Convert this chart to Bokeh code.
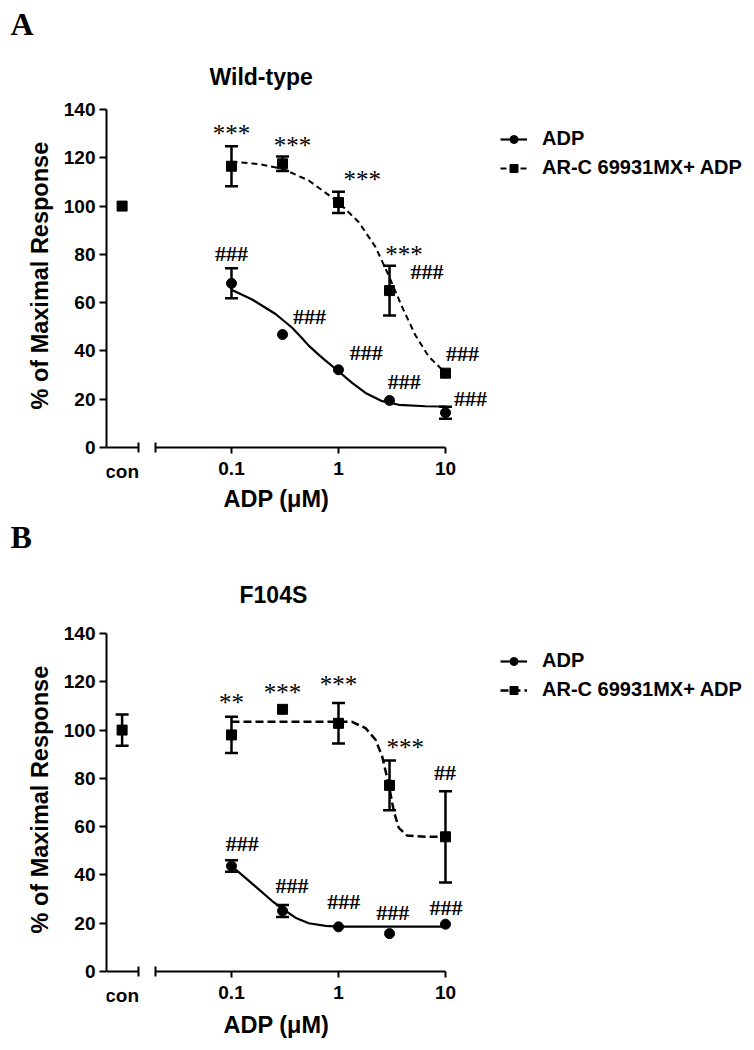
from bokeh.plotting import figure
from bokeh.models import (ColumnDataSource, Whisker, TeeHead, LabelSet, Legend, LegendItem,
                          FixedTicker, LogAxis, NumeralTickFormatter, Title, Range1d)
from bokeh.layouts import column
from bokeh.embed import file_html
from bokeh.resources import INLINE

# ---------------- data ----------------
DOSE = [0.1, 0.3, 1, 3, 10]
XTICKS = [0.1, 1, 10]
XTICK_LABELS = ["0.1", "1", "10"]
YTICKS = [0, 20, 40, 60, 80, 100, 120, 140]
CON_LABEL = "con"
SERIES = ["ADP", "AR-C 69931MX+ ADP"]
X_LABEL = "ADP (\u03bcM)"
Y_LABEL = "% of Maximal Response"

# Panel A (Wild-type)
A_ADP = [68.0, 46.8, 32.2, 19.5, 14.4]
A_ADP_SEM = [6.2, 0, 0, 0, 2.5]
A_ARC = [116.5, 117.5, 101.5, 65.0, 30.8]
A_ARC_SEM = [8.3, 3.0, 4.4, 10.3, 0]
A_CON = 100.0
A_CON_SEM = 0.0
A_FIT_ADP_X = [0.1, 0.156, 0.258, 0.369, 0.45, 0.527, 0.64, 0.757, 1.0, 1.34, 1.79, 2.56, 3.66, 6.5, 10]
A_FIT_ADP_Y = [65.3, 61.3, 55.3, 49.6, 45.6, 42.2, 38.8, 36.0, 31.6, 26.8, 22.6, 19.2, 17.7, 17.1, 17.0]
A_FIT_ARC_X = [0.1, 0.18, 0.3, 0.527, 1.0, 1.55, 2.22, 2.95, 3.94, 5.25, 6.99, 9.31, 10]
A_FIT_ARC_Y = [118.4, 117.4, 115.4, 110.6, 101.6, 93.3, 83.0, 71.2, 58.1, 46.4, 37.6, 32.2, 31.6]
A_ANN_TEXT = ["***", "***", "***", "***", "###", "###", "###", "###", "###", "###", "###"]
A_ANN_X = [0.1, 0.371, 1.67, 4.1, 6.7, 0.1, 0.536, 1.82, 4.11, 14.4, 17.1]
A_ANN_Y = [130.1, 125.1, 111.2, 80.0, 73.1, 80.5, 54.4, 39.5, 27.4, 38.9, 20.3]

# Panel B (F104S)
B_ADP = [43.7, 25.1, 18.5, 15.7, 19.6]
B_ADP_SEM = [2.4, 2.5, 0, 0, 0]
B_ARC = [98.0, 108.6, 102.8, 77.1, 55.8]
B_ARC_SEM = [7.5, 0, 8.4, 10.3, 18.9]
B_CON = 100.0
B_CON_SEM = 6.5
B_FIT_ADP_X = [0.1, 0.135, 0.18, 0.24, 0.3, 0.396, 0.527, 0.757, 1.0, 10]
B_FIT_ADP_Y = [43.7, 38.8, 34.0, 29.2, 26.0, 22.3, 20.0, 18.9, 18.6, 18.6]
B_FIT_ARC_X = [0.1, 1.0, 1.34, 1.79, 2.22, 2.56, 2.95, 3.29, 3.66, 4.38, 6.5, 10]
B_FIT_ARC_Y = [103.5, 103.5, 103.4, 100.8, 96.0, 89.1, 77.4, 66.4, 59.5, 56.3, 55.8, 55.8]
B_ANN_TEXT = ["**", "***", "***", "***", "##", "###", "###", "###", "###", "###"]
B_ANN_X = [0.1, 0.3, 1.0, 4.2, 9.9, 0.126, 0.367, 1.12, 3.21, 10.1]
B_ANN_Y = [111.5, 115.5, 118.9, 92.9, 82.5, 53.0, 35.8, 29.0, 24.4, 26.7]

# ---------------- layout constants ----------------
X_START, X_END = 0.00679, 27.5
Y_LO, Y_HI = -14.9, 140
CON_X = 0.0095
BREAK_L, BREAK_R = 0.0135, 0.0195
FRAME_W, FRAME_H = 386, 374
SANS = "Liberation Sans"
SERIF = "Liberation Serif"


def style_axis(ax):
    ax.axis_line_width = 2
    ax.axis_line_color = "black"
    ax.major_tick_line_width = 2
    ax.major_tick_line_color = "black"
    ax.minor_tick_line_width = 2
    ax.minor_tick_line_color = "black"
    ax.major_label_text_font = SANS
    ax.major_label_text_font_style = "bold"
    ax.major_label_text_font_size = "19px"
    ax.major_label_text_color = "black"


def whisker_source(xs, ys, errs):
    bx, up, lo = [], [], []
    for x, y, e in zip(xs, ys, errs):
        if e > 0:
            bx.append(x)
            up.append(y + e)
            lo.append(y - e)
    return ColumnDataSource(dict(base=bx, upper=up, lower=lo))


def make_panel(letter, title, adp, adp_sem, arc, arc_sem, con, con_sem,
               fax, fay, frx, fry, ann_t, ann_x, ann_y,
               top_border, bottom_border, title_off, title_standoff, xlab_standoff, legend_vy,
               dash, dash_w):
    p = figure(x_axis_type="log", x_range=Range1d(X_START, X_END), y_range=Range1d(Y_LO, Y_HI),
               frame_width=FRAME_W, frame_height=FRAME_H,
               min_border_left=106, min_border_right=258,
               min_border_top=top_border, min_border_bottom=bottom_border,
               output_backend="svg", toolbar_location=None)
    p.xgrid.visible = False
    p.ygrid.visible = False
    p.outline_line_color = None

    # panel title (nearest the frame) and panel letter (outermost)
    p.add_layout(Title(text=title, align="left", offset=title_off, text_font=SANS,
                       text_font_style="bold", text_font_size="23px", text_color="black",
                       standoff=title_standoff), "above")
    p.title.text = letter
    p.title.align = "left"
    p.title.offset = -96
    p.title.text_font = SERIF
    p.title.text_font_style = "bold"
    p.title.text_font_size = "32px"
    p.title.text_color = "black"
    p.title.standoff = 0

    # main (log) x axis, drawn at y = 0
    xa = p.xaxis[0]
    xa.fixed_location = 0
    xa.ticker = FixedTicker(ticks=XTICKS, minor_ticks=[BREAK_R])
    xa.formatter = NumeralTickFormatter(format="0.[0]")
    xa.major_label_overrides = dict(zip(XTICKS, XTICK_LABELS))
    xa.bounds = (BREAK_R, 10)
    style_axis(xa)
    xa.major_tick_out = 6
    xa.major_tick_in = 0
    xa.minor_tick_out = 5
    xa.minor_tick_in = 5
    xa.major_label_standoff = 8

    # "con" axis segment left of the break
    ca = LogAxis(fixed_location=0, bounds=(X_START, BREAK_L),
                 ticker=FixedTicker(ticks=[CON_X], minor_ticks=[BREAK_L]),
                 major_label_overrides={CON_X: CON_LABEL})
    style_axis(ca)
    ca.major_tick_out = 0
    ca.major_tick_in = 0
    ca.minor_tick_out = 5
    ca.minor_tick_in = 5
    ca.major_label_standoff = 8
    p.add_layout(ca, "below")

    # x axis title
    p.add_layout(Title(text=X_LABEL, align="left", offset=117, vertical_align="top",
                       text_font=SANS, text_font_style="bold", text_font_size="23.5px",
                       text_color="black", standoff=xlab_standoff), "below")

    # y axis
    ya = p.yaxis[0]
    ya.ticker = FixedTicker(ticks=YTICKS)
    ya.bounds = (0, 140)
    style_axis(ya)
    ya.major_tick_out = 7
    ya.major_tick_in = 0
    ya.major_label_standoff = 4
    p.add_layout(Title(text=Y_LABEL, align="left", offset=74, vertical_align="bottom",
                       text_font=SANS, text_font_style="bold", text_font_size="23.5px",
                       text_color="black", standoff=15), "left")

    # fitted curves
    l_adp = p.line(fax, fay, line_width=2.2, color="black")
    l_arc = p.line(frx, fry, line_width=dash_w, color="black", line_dash=dash)

    # error bars
    for xs, ys, es in ((DOSE, adp, adp_sem), (DOSE, arc, arc_sem), ([CON_X], [con], [con_sem])):
        src = whisker_source(xs, ys, es)
        w = Whisker(source=src, base="base", upper="upper", lower="lower", dimension="height",
                    line_width=2.5, line_color="black",
                    upper_head=TeeHead(size=13, line_width=2.5, line_color="black"),
                    lower_head=TeeHead(size=13, line_width=2.5, line_color="black"))
        p.add_layout(w)

    # markers
    s_adp = p.scatter(DOSE, adp, marker="circle", size=10, color="black")
    s_arc = p.scatter(DOSE, arc, marker="square", size=10, color="black")
    p.scatter([CON_X], [con], marker="square", size=10, color="black")

    # significance annotations
    star = dict(t=[], x=[], y=[])
    hsh = dict(t=[], x=[], y=[])
    for t, x, y in zip(ann_t, ann_x, ann_y):
        d = star if t.startswith("*") else hsh
        d["t"].append(t)
        d["x"].append(x)
        d["y"].append(y)
    p.add_layout(LabelSet(source=ColumnDataSource(star), x="x", y="y", text="t",
                          text_align="center", text_baseline="middle",
                          text_font=SANS, text_font_size="25px", text_color="black"))
    p.add_layout(LabelSet(source=ColumnDataSource(hsh), x="x", y="y", text="t",
                          text_align="center", text_baseline="middle",
                          text_font=SERIF, text_font_style="bold",
                          text_font_size="22px", text_color="black"))

    legend = Legend(items=[LegendItem(label=SERIES[0], renderers=[l_adp, s_adp]),
                           LegendItem(label=SERIES[1], renderers=[l_arc, s_arc])],
                    location=(8, legend_vy), orientation="vertical",
                    label_text_font=SANS, label_text_font_style="bold",
                    label_text_font_size="20px", label_text_color="black",
                    glyph_width=27, glyph_height=20,
                    label_height=20, label_standoff=15, spacing=6, padding=0, margin=0,
                    border_line_color=None, background_fill_alpha=0)
    p.add_layout(legend, "right")
    return p


pa = make_panel("A", "Wild-type", A_ADP, A_ADP_SEM, A_ARC, A_ARC_SEM, A_CON, A_CON_SEM,
                A_FIT_ADP_X, A_FIT_ADP_Y, A_FIT_ARC_X, A_FIT_ARC_Y,
                A_ANN_TEXT, A_ANN_X, A_ANN_Y,
                top_border=109, bottom_border=31, title_off=103, title_standoff=40,
                xlab_standoff=5, legend_vy=304, dash="6 4", dash_w=2)
pb = make_panel("B", "F104S", B_ADP, B_ADP_SEM, B_ARC, B_ARC_SEM, B_CON, B_CON_SEM,
                B_FIT_ADP_X, B_FIT_ADP_Y, B_FIT_ARC_X, B_FIT_ARC_Y,
                B_ANN_TEXT, B_ANN_X, B_ANN_Y,
                top_border=117, bottom_border=32, title_off=133, title_standoff=51,
                xlab_standoff=9, legend_vy=306, dash="8 4", dash_w=2.5)

layout = column(pa, pb)
open("out.html", "w").write(file_html(layout, INLINE))
